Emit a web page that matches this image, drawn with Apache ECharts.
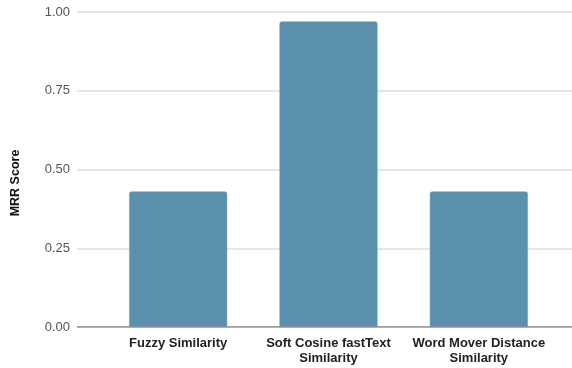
<!DOCTYPE html>
<html>
<head>
<meta charset="utf-8">
<script src="https://cdn.jsdelivr.net/npm/echarts@6/dist/echarts.min.js"></script>
<style>
  html, body { margin: 0; padding: 0; background: #fff; }
  #chart { width: 572px; height: 368px; }
</style>
</head>
<body>
<div id="chart"></div>
<script>
// MRR score per similarity method
const categories = ['Fuzzy Similarity', 'Soft Cosine fastText\nSimilarity', 'Word Mover Distance\nSimilarity'];
const mrrScores = [0.43, 0.97, 0.43];
const yTicks = [0, 0.25, 0.5, 0.75, 1.0];

const FONT = '"Liberation Sans", Arial, sans-serif';
const chart = echarts.init(document.getElementById('chart'), null, { renderer: 'canvas' });

chart.setOption({
  animation: false,
  textStyle: { fontFamily: FONT },
  grid: [
    // wide grid: gridlines, y labels and baseline
    { left: 77, right: 0, top: 12, bottom: 41 },
    // inner grid: the bars and category labels
    { left: 103, right: 18, top: 12, bottom: 41 }
  ],
  xAxis: [
    {
      gridIndex: 0, type: 'value', min: 0, max: 1,
      axisLine: { show: false }, axisTick: { show: false },
      axisLabel: { show: false }, splitLine: { show: false }
    },
    {
      gridIndex: 1, type: 'category', data: categories,
      axisLine: { show: false }, axisTick: { show: false },
      axisLabel: {
        interval: 0, margin: 9, color: '#222', fontWeight: 'bold',
        fontSize: 13, lineHeight: 15, fontFamily: FONT
      }
    }
  ],
  yAxis: [
    {
      gridIndex: 0, type: 'value', min: 0, max: 1, interval: 0.25,
      axisLine: { show: false }, axisTick: { show: false },
      axisLabel: {
        margin: 7, color: '#555', fontSize: 13, fontFamily: FONT,
        formatter: v => yTicks.includes(v) ? v.toFixed(2) : ''
      },
      splitLine: { lineStyle: { color: '#dedede', width: 1.5 } }
    },
    {
      gridIndex: 1, type: 'value', min: 0, max: 1, interval: 0.25,
      axisLine: { show: false }, axisTick: { show: false },
      axisLabel: { show: false }, splitLine: { show: false }
    }
  ],
  graphic: [
    {
      type: 'text', x: 16, y: 183, rotation: Math.PI / 2,
      style: {
        text: 'MRR Score', fill: '#111', font: 'bold 12.5px ' + FONT,
        textAlign: 'center', textVerticalAlign: 'middle'
      }
    }
  ],
  series: [
    {
      // baseline at zero across the full width
      type: 'line', xAxisIndex: 0, yAxisIndex: 0,
      data: [[0, 0], [1, 0]], symbol: 'none',
      lineStyle: { color: '#8a8a8a', width: 1.5 }, z: 5, silent: true
    },
    {
      type: 'bar', xAxisIndex: 1, yAxisIndex: 1,
      data: mrrScores, barWidth: 98,
      itemStyle: {
        color: '#5a8fae', borderRadius: [2, 2, 0, 0],
        borderColor: '#6a9dbb', borderWidth: 0.5
      },
      z: 3
    }
  ]
});
</script>
</body>
</html>
